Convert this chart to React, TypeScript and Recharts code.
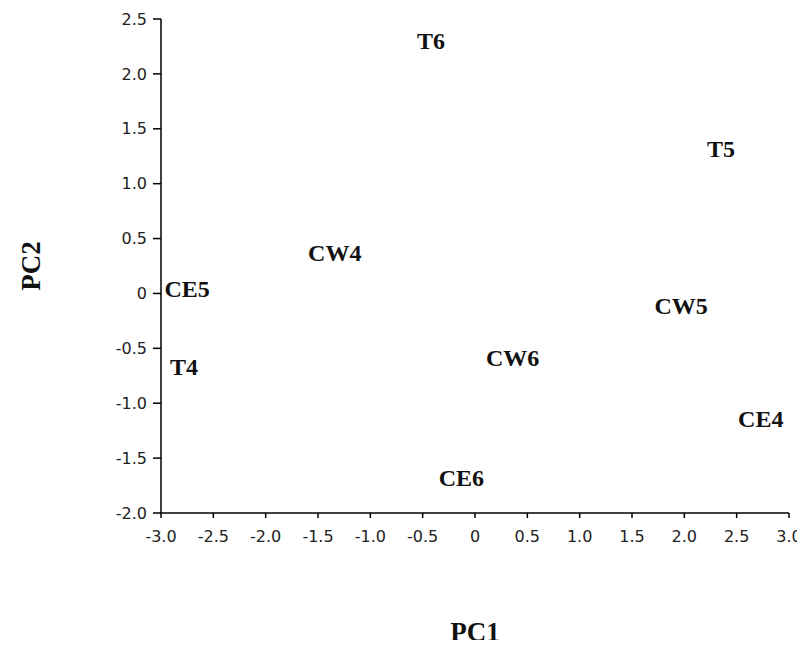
import { ScatterChart, Scatter, XAxis, YAxis, Label } from "recharts";

// PCA scores per sample
const samples = ["T6", "T5", "CW4", "CE5", "CW5", "T4", "CW6", "CE4", "CE6"];
const pc1 = [-0.42, 2.35, -1.34, -2.75, 1.97, -2.78, 0.36, 2.73, -0.13];
const pc2 = [2.3, 1.32, 0.37, 0.04, -0.11, -0.67, -0.59, -1.14, -1.68];

const xTicks = [-3, -2.5, -2, -1.5, -1, -0.5, 0, 0.5, 1, 1.5, 2, 2.5, 3];
const yTicks = [-2, -1.5, -1, -0.5, 0, 0.5, 1, 1.5, 2, 2.5];

const points = samples.map((name, i) => ({ name, x: pc1[i], y: pc2[i] }));

const fmt = (v: number) => (v === 0 ? "0" : v.toFixed(1));

const tickStyle = {
  fill: "#222",
  fontSize: 16,
  fontFamily: "DejaVu Sans",
};

const titleFont = {
  fontFamily: "Liberation Serif",
  fontWeight: "bold",
  fontSize: 27,
  fill: "#111",
  textAnchor: "middle",
};

// each sample is drawn as its bold name instead of a marker
const SampleLabel = (props: any) => (
  <text
    x={props.cx}
    y={props.cy}
    textAnchor="middle"
    dominantBaseline="central"
    fontFamily="Liberation Serif"
    fontWeight="bold"
    fontSize={24}
    fill="#111"
  >
    {props.payload.name}
  </text>
);

export default function App() {
  // negative bottom margin cancels the body margin so the page doesn't scroll
  return (
    <div style={{ width: 797, height: 640, marginBottom: -8 }}>
      <ScatterChart
        width={797}
        height={640}
        margin={{ top: 11, right: 16, bottom: 95, left: 0 }}
      >
        <XAxis
          type="number"
          dataKey="x"
          domain={[-3, 3]}
          ticks={xTicks}
          tickFormatter={fmt}
          height={40}
          stroke="#000"
          strokeWidth={1.5}
          tickSize={5}
          tickMargin={13}
          tick={tickStyle}
        >
          <Label value="PC1" position="bottom" offset={69} style={titleFont} />
        </XAxis>
        <YAxis
          type="number"
          dataKey="y"
          domain={[-2, 2.5]}
          ticks={yTicks}
          tickFormatter={fmt}
          width={153}
          stroke="#000"
          strokeWidth={1.5}
          tickSize={8}
          tickMargin={6}
          tick={tickStyle}
        >
          <Label
            value="PC2"
            angle={-90}
            position="insideLeft"
            offset={22}
            style={titleFont}
          />
        </YAxis>
        <Scatter data={points} shape={SampleLabel} isAnimationActive={false} />
      </ScatterChart>
    </div>
  );
}
